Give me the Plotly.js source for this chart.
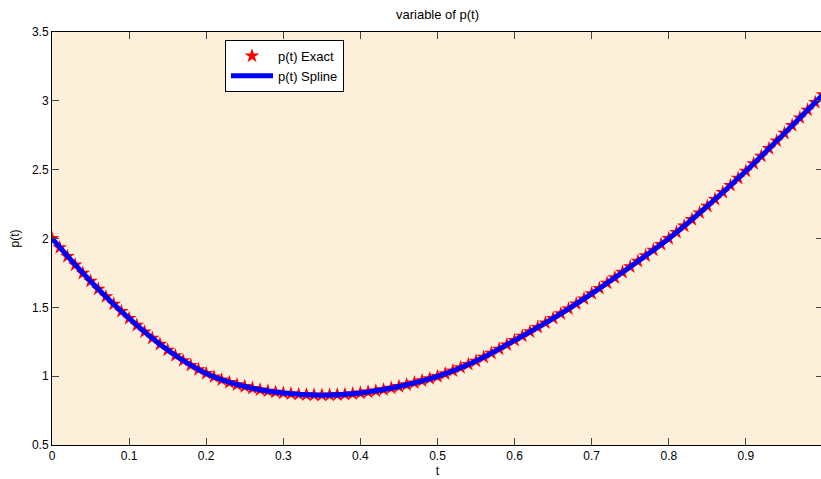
<!DOCTYPE html>
<html>
<head>
<meta charset="utf-8">
<script src="https://cdn.plot.ly/plotly-3.0.1.min.js"></script>
<style>
  html, body { margin: 0; padding: 0; overflow: hidden; background: #ffffff; }
  #chart { width: 830px; height: 479px; }
</style>
</head>
<body>
<div id="chart"></div>
<script>
// Exact values (t step 0.01)
const exactT = [0.00,0.01,0.02,0.03,0.04,0.05,0.06,0.07,0.08,0.09,
  0.10,0.11,0.12,0.13,0.14,0.15,0.16,0.17,0.18,0.19,
  0.20,0.21,0.22,0.23,0.24,0.25,0.26,0.27,0.28,0.29,
  0.30,0.31,0.32,0.33,0.34,0.35,0.36,0.37,0.38,0.39,
  0.40,0.41,0.42,0.43,0.44,0.45,0.46,0.47,0.48,0.49,
  0.50,0.51,0.52,0.53,0.54,0.55,0.56,0.57,0.58,0.59,
  0.60,0.61,0.62,0.63,0.64,0.65,0.66,0.67,0.68,0.69,
  0.70,0.71,0.72,0.73,0.74,0.75,0.76,0.77,0.78,0.79,
  0.80,0.81,0.82,0.83,0.84,0.85,0.86,0.87,0.88,0.89,
  0.90,0.91,0.92,0.93,0.94,0.95,0.96,0.97,0.98,0.99,1.00];
const exactP = [2.000,1.934,1.870,1.808,1.748,1.690,1.633,1.578,1.524,1.471,
  1.420,1.370,1.322,1.276,1.232,1.190,1.150,1.113,1.079,1.048,
  1.020,0.995,0.973,0.954,0.938,0.925,0.912,0.901,0.892,0.884,
  0.877,0.872,0.868,0.865,0.863,0.862,0.863,0.865,0.868,0.872,
  0.878,0.885,0.893,0.902,0.913,0.925,0.938,0.952,0.967,0.982,
  0.998,1.018,1.039,1.062,1.086,1.110,1.138,1.167,1.197,1.228,
  1.260,1.291,1.323,1.355,1.387,1.420,1.454,1.489,1.525,1.562,
  1.600,1.638,1.676,1.715,1.755,1.795,1.835,1.875,1.916,1.958,
  2.000,2.045,2.091,2.138,2.186,2.235,2.285,2.335,2.386,2.438,
  2.490,2.544,2.599,2.654,2.709,2.765,2.821,2.877,2.933,2.989,3.045];

// Spline values (t step 0.05)
const splineT = [0.00,0.05,0.10,0.15,0.20,0.25,0.30,0.35,0.40,0.45,0.50,
  0.55,0.60,0.65,0.70,0.75,0.80,0.85,0.90,0.95,1.00];
const splineP = [2.000,1.690,1.420,1.190,1.020,0.925,0.877,0.862,0.878,0.925,0.998,
  1.110,1.260,1.420,1.600,1.795,2.000,2.235,2.490,2.765,3.045];

const xTicks = [0,0.1,0.2,0.3,0.4,0.5,0.6,0.7,0.8,0.9];
const xTickText = ['0','0.1','0.2','0.3','0.4','0.5','0.6','0.7','0.8','0.9'];
const yTicks = [0.5,1,1.5,2,2.5,3,3.5];
const yTickText = ['0.5','1','1.5','2','2.5','3','3.5'];

const font = 'Arial, "Liberation Sans", Helvetica, sans-serif';

const traces = [
  {
    x: exactT, y: exactP, type: 'scatter', mode: 'markers', name: 'p(t) Exact',
    marker: { symbol: 'star', color: '#ff0000', size: 11, line: { width: 0 } }
  },
  {
    x: splineT, y: splineP, type: 'scatter', mode: 'lines', name: 'p(t) Spline',
    line: { color: '#0000ff', width: 5, shape: 'spline' }
  }
];

const layout = {
  width: 830, height: 479,
  margin: { l: 52, r: 7, t: 32, b: 34 },
  paper_bgcolor: '#ffffff',
  plot_bgcolor: '#fdf0db',
  font: { family: font, size: 12, color: '#000000' },
  title: {
    text: 'variable of p(t)', font: { family: font, size: 13, color: '#000' },
    x: 0.5, xref: 'paper', xanchor: 'center', y: 1 - 14/479, yref: 'container', yanchor: 'middle'
  },
  xaxis: {
    range: [0, 1], tickmode: 'array', tickvals: xTicks, ticktext: xTickText,
    ticks: 'inside', ticklen: 7, tickcolor: '#444', tickwidth: 1,
    showline: true, linecolor: '#000', linewidth: 1, mirror: 'ticks',
    showgrid: false, zeroline: false,
    tickfont: { family: font, size: 12, color: '#000' },
    title: { text: 't', font: { family: font, size: 12, color: '#000' }, standoff: 4 }
  },
  yaxis: {
    range: [0.5, 3.5], tickmode: 'array', tickvals: yTicks, ticktext: yTickText,
    ticks: 'inside', ticklen: 7, tickcolor: '#444', tickwidth: 1,
    showline: true, linecolor: '#000', linewidth: 1, mirror: 'ticks',
    showgrid: false, zeroline: false,
    tickfont: { family: font, size: 12, color: '#000' },
    title: { text: 'p(t)', font: { family: font, size: 12, color: '#000' }, standoff: 9 }
  },
  showlegend: true,
  legend: {
    x: (225 - 52) / 771, y: (445 - 40) / 413, xanchor: 'left', yanchor: 'top',
    bgcolor: '#ffffff', bordercolor: '#000000', borderwidth: 1,
    font: { family: font, size: 13, color: '#000' },
    itemwidth: 42,
    tracegroupgap: 0
  }
};

Plotly.newPlot('chart', traces, layout, { displayModeBar: false, staticPlot: true });
</script>
</body>
</html>
